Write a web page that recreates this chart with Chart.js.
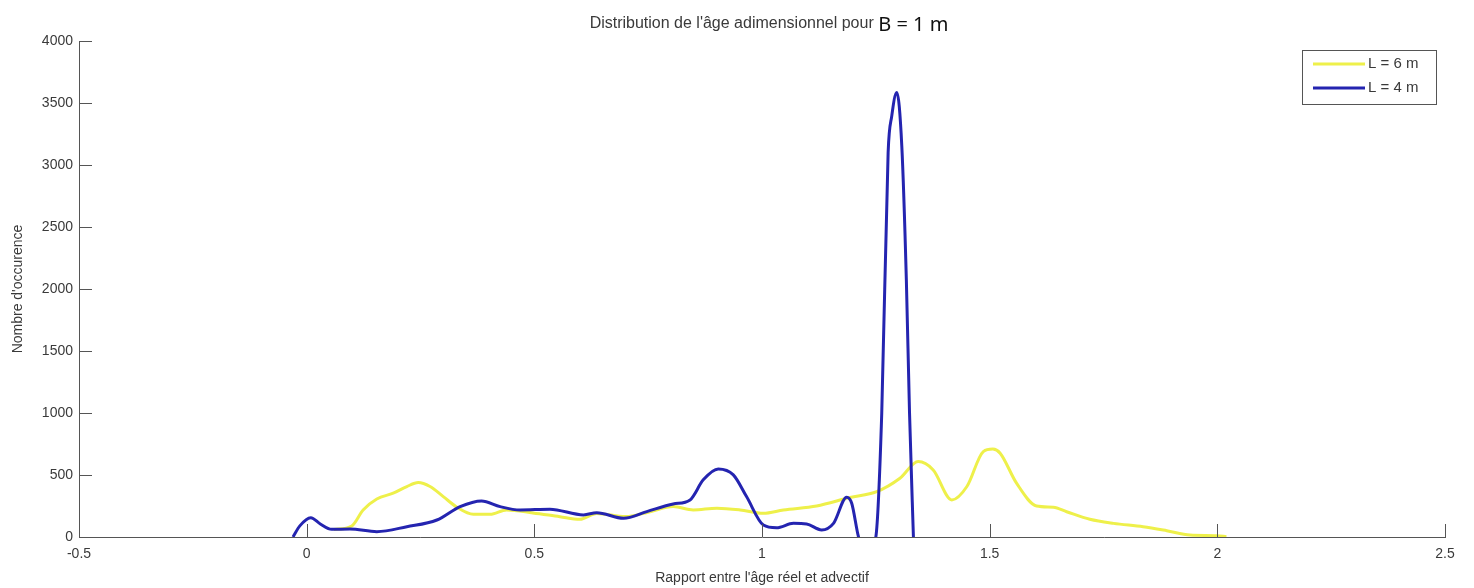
<!DOCTYPE html>
<html>
<head>
<meta charset="utf-8">
<script src="https://cdn.jsdelivr.net/npm/chart.js@4.4.0/dist/chart.umd.min.js"></script>
<style>
html,body{margin:0;padding:0;background:#fff}
</style>
</head>
<body>
<canvas id="c" width="1474" height="588"></canvas>
<script>
// axis ticks
const xTicks = [-0.5, 0, 0.5, 1, 1.5, 2, 2.5];
const yTicks = [0, 500, 1000, 1500, 2000, 2500, 3000, 3500, 4000];

// L = 6 m (yellow)
const l6X = [0.06, 0.099, 0.124, 0.154, 0.19, 0.22, 0.245, 0.271, 0.3, 0.33, 0.366, 0.403, 0.439, 0.497, 0.556, 0.6, 0.637, 0.7, 0.75, 0.805, 0.849, 0.901, 0.952, 1.003, 1.047, 1.12, 1.193, 1.252, 1.303, 1.343, 1.376, 1.417, 1.45, 1.486, 1.507, 1.523, 1.559, 1.603, 1.64, 1.669, 1.72, 1.772, 1.837, 1.889, 1.94, 1.999, 2.02];
const l6Y = [60, 89, 218, 307, 353, 407, 439, 407, 326, 240, 183, 183, 218, 194, 164, 143, 190, 165, 200, 245, 218, 232, 218, 191, 218, 250, 318, 366, 474, 608, 541, 299, 407, 689, 709, 676, 434, 250, 240, 204, 143, 110, 83, 51, 16, 11, 2];

// L = 4 m (blue)
const l4X = [-0.03, -0.015, 0.009, 0.03, 0.055, 0.095, 0.154, 0.22, 0.286, 0.337, 0.384, 0.425, 0.469, 0.534, 0.608, 0.637, 0.696, 0.747, 0.805, 0.842, 0.871, 0.904, 0.937, 0.966, 1.003, 1.032, 1.069, 1.098, 1.131, 1.157, 1.186, 1.197, 1.212, 1.23, 1.25, 1.263, 1.277, 1.285, 1.296, 1.307, 1.317, 1.324, 1.333];
const l4Y = [0, 90, 156, 105, 62, 65, 43, 83, 137, 245, 291, 245, 218, 224, 178, 196, 151, 205, 266, 299, 461, 549, 501, 326, 97, 75, 110, 105, 57, 110, 321, 272, 0, -150, 0, 1000, 3100, 3396, 3585, 3154, 2077, 1000, -50];

const axisColor = '#555';
const textColor = '#3a3a3a';
const tickFont = {family: 'Liberation Sans', size: 14};

function pts(xs, ys) { return xs.map((x, i) => ({x: x, y: ys[i]})); }

const decor = {
  id: 'decor',
  afterDraw(chart) {
    const ctx = chart.ctx, a = chart.chartArea;
    const xs = chart.scales.x, ys = chart.scales.y;
    ctx.save();
    // inward ticks
    ctx.strokeStyle = axisColor; ctx.lineWidth = 1;
    ctx.beginPath();
    xs.ticks.forEach(t => {
      const p = Math.round(xs.getPixelForValue(t.value)) + 0.5;
      ctx.moveTo(p, a.bottom); ctx.lineTo(p, a.bottom - 13);
    });
    ys.ticks.forEach(t => {
      const p = Math.round(ys.getPixelForValue(t.value)) + 0.5;
      ctx.moveTo(a.left, p); ctx.lineTo(a.left + 13, p);
    });
    ctx.stroke();

    // title, two sizes
    const t1 = "Distribution de l'âge adimensionnel pour ";
    const t2 = 'B = 1 m';
    const f1 = '16px "Liberation Sans"', f2 = '20px "Noto Sans"';
    ctx.font = f1; const w1 = ctx.measureText(t1).width;
    ctx.font = f2; const w2 = ctx.measureText(t2).width;
    let x0 = (a.left + a.right) / 2 + 7 - (w1 + w2) / 2;
    ctx.fillStyle = textColor; ctx.textAlign = 'left'; ctx.textBaseline = 'alphabetic';
    ctx.font = f1; ctx.fillText(t1, x0, 28);
    ctx.fillStyle = '#111'; ctx.font = f2; ctx.fillText(t2, x0 + w1, 31);

    // legend box
    const bx = 1302.5, by = 50.5, bw = 134, bh = 54;
    ctx.fillStyle = '#fff'; ctx.fillRect(bx, by, bw, bh);
    ctx.strokeStyle = axisColor; ctx.lineWidth = 1; ctx.strokeRect(bx, by, bw, bh);
    ctx.font = '15px "Liberation Sans"'; ctx.textBaseline = 'middle';
    chart.data.datasets.forEach((d, i) => {
      const ly = 64 + i * 24;
      ctx.strokeStyle = d.borderColor; ctx.lineWidth = 3;
      ctx.beginPath(); ctx.moveTo(1313, ly); ctx.lineTo(1365, ly); ctx.stroke();
      ctx.fillStyle = textColor; ctx.fillText(d.label, 1368, ly);
    });
    ctx.restore();
  }
};

new Chart(document.getElementById('c').getContext('2d'), {
  type: 'line',
  data: {
    datasets: [
      {label: 'L = 6 m', data: pts(l6X, l6Y), borderColor: '#eef04a', borderWidth: 3, pointRadius: 0, cubicInterpolationMode: 'monotone', order: 1},
      {label: 'L = 4 m', data: pts(l4X, l4Y), borderColor: '#2424b0', borderWidth: 3, pointRadius: 0, cubicInterpolationMode: 'monotone', order: 0}
    ]
  },
  options: {
    responsive: false,
    animation: false,
    layout: {padding: {top: 41, right: 29, left: 0, bottom: 0}},
    plugins: {legend: {display: false}, tooltip: {enabled: false}, title: {display: false}},
    scales: {
      x: {
        type: 'linear', min: xTicks[0], max: xTicks[xTicks.length - 1],
        afterBuildTicks: s => { s.ticks = xTicks.map(v => ({value: v})); },
        afterFit: s => { s.height = 51; },
        grid: {drawOnChartArea: false, drawTicks: false},
        border: {color: axisColor, width: 1},
        ticks: {color: textColor, font: tickFont, padding: 9, maxRotation: 0, autoSkip: false, callback: v => String(v)},
        title: {display: true, text: "Rapport entre l'âge réel et advectif", color: textColor, font: {family: 'Liberation Sans', size: 14}, padding: {top: 0, bottom: 1}}
      },
      y: {
        type: 'linear', min: yTicks[0], max: yTicks[yTicks.length - 1],
        afterBuildTicks: s => { s.ticks = yTicks.map(v => ({value: v})); },
        afterFit: s => { s.width = 79; },
        grid: {drawOnChartArea: false, drawTicks: false},
        border: {color: axisColor, width: 1},
        ticks: {color: textColor, font: tickFont, padding: 6, autoSkip: false, callback: v => String(v)},
        title: {display: true, text: "Nombre d'occurence", color: textColor, font: {family: 'Liberation Sans', size: 14}, padding: {top: 10, bottom: 0}}
      }
    }
  },
  plugins: [decor]
});
</script>
</body>
</html>
